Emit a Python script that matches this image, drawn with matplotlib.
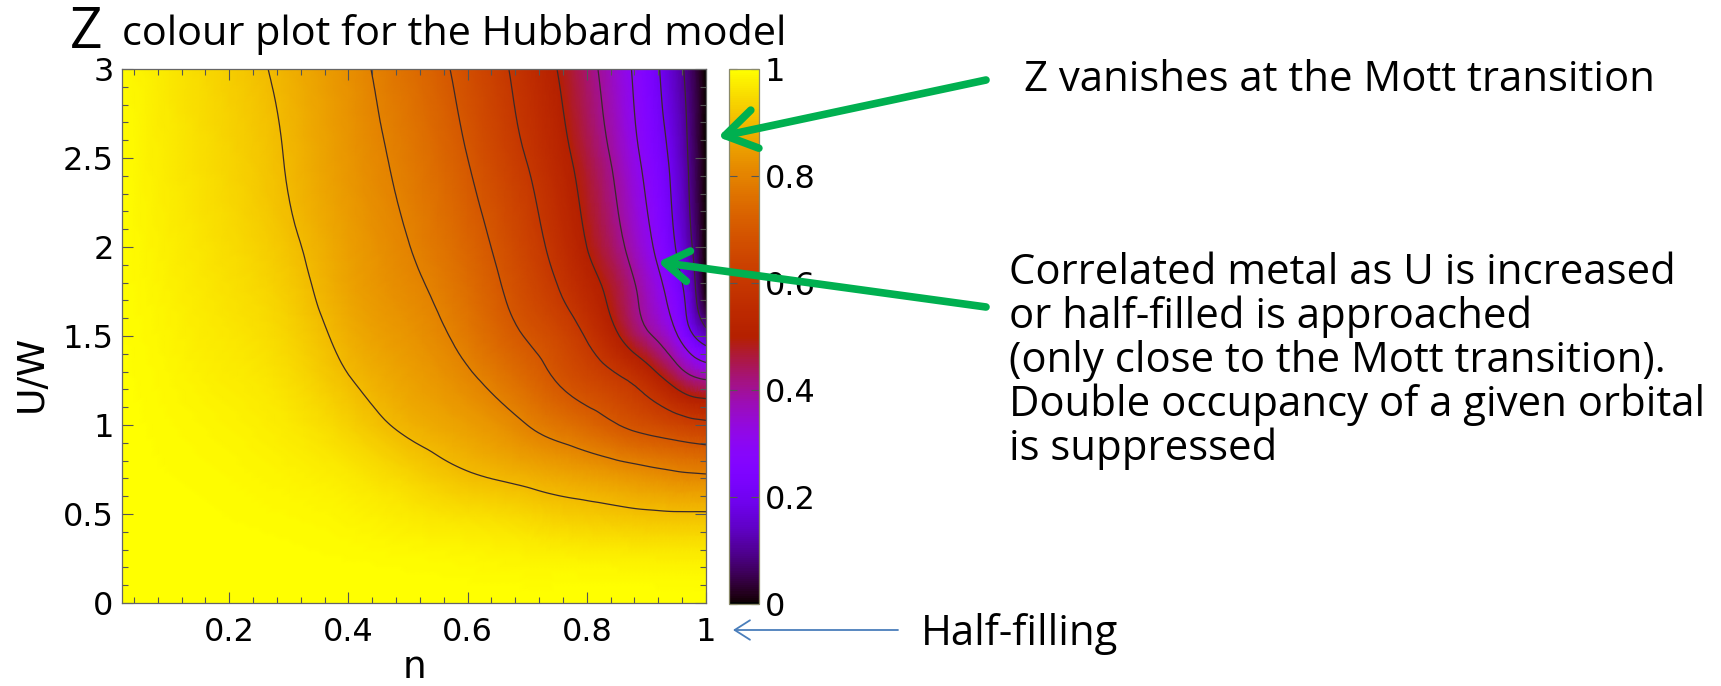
import numpy as np
import matplotlib
matplotlib.use("Agg")
import matplotlib.pyplot as plt
from matplotlib.tri import Triangulation, UniformTriRefiner

plt.rcParams["font.family"] = ["DejaVu Sans"]

# ── data: Z(n, U/W) ──
N_VALS = [0.02, 0.1, 0.2, 0.3, 0.4, 0.5, 0.6, 0.7, 0.75, 0.8, 0.85, 0.9, 0.95, 0.98, 1.0]
U_VALS = [0.0, 0.25, 0.5, 0.75, 1.0, 1.25, 1.5, 1.75, 2.0, 2.5, 3.0]

Z_U000 = [1.0, 1.0, 1.0, 1.0, 1.0, 1.0, 1.0, 1.0, 1.0, 1.0, 1.0, 1.0, 1.0, 1.0, 1.0]
Z_U025 = [1.0, 1.0, 0.999, 0.998, 0.996, 0.993, 0.989, 0.984, 0.982, 0.980, 0.979, 0.977, 0.976, 0.976, 0.976]
Z_U050 = [1.0, 0.999, 0.996, 0.992, 0.985, 0.970, 0.955, 0.940, 0.928, 0.921, 0.914, 0.908, 0.905, 0.905, 0.905]
Z_U075 = [0.999, 0.996, 0.991, 0.982, 0.966, 0.934, 0.898, 0.870, 0.856, 0.842, 0.826, 0.810, 0.795, 0.789, 0.786]
Z_U100 = [0.999, 0.993, 0.984, 0.969, 0.935, 0.887, 0.852, 0.800, 0.769, 0.739, 0.703, 0.672, 0.644, 0.627, 0.620]
Z_U125 = [0.998, 0.989, 0.975, 0.954, 0.904, 0.858, 0.812, 0.742, 0.697, 0.656, 0.617, 0.558, 0.467, 0.419, 0.405]
Z_U150 = [0.997, 0.985, 0.966, 0.939, 0.880, 0.835, 0.778, 0.695, 0.655, 0.593, 0.509, 0.416, 0.310, 0.200, 0.143]
Z_U175 = [0.996, 0.981, 0.958, 0.925, 0.862, 0.816, 0.755, 0.660, 0.606, 0.540, 0.465, 0.367, 0.245, 0.116, 0.0]
Z_U200 = [0.996, 0.977, 0.951, 0.912, 0.853, 0.802, 0.735, 0.637, 0.574, 0.500, 0.425, 0.325, 0.196, 0.088, 0.0]
Z_U250 = [0.995, 0.971, 0.939, 0.895, 0.836, 0.780, 0.700, 0.597, 0.535, 0.462, 0.380, 0.278, 0.163, 0.065, 0.0]
Z_U300 = [0.994, 0.966, 0.929, 0.882, 0.825, 0.756, 0.673, 0.564, 0.500, 0.429, 0.346, 0.250, 0.133, 0.052, 0.0]

CONTOUR_LEVELS = [0.1, 0.2, 0.3, 0.4, 0.5, 0.6, 0.7, 0.8, 0.9]
X_TICKS = [0.2, 0.4, 0.6, 0.8, 1.0]
X_TICKLABELS = ["0.2", "0.4", "0.6", "0.8", "1"]
Y_TICKS = [0, 0.5, 1, 1.5, 2, 2.5, 3]
Y_TICKLABELS = ["0", "0.5", "1", "1.5", "2", "2.5", "3"]
CB_TICKS = [0, 0.2, 0.4, 0.6, 0.8, 1.0]
CB_TICKLABELS = ["0", "0.2", "0.4", "0.6", "0.8", "1"]

W, H = 1721, 686
GREEN = "#00b050"
BLUE = "#4a7ebb"

Z = np.array([Z_U000, Z_U025, Z_U050, Z_U075, Z_U100, Z_U125,
              Z_U150, Z_U175, Z_U200, Z_U250, Z_U300])
NN, UU = np.meshgrid(N_VALS, U_VALS)

# 平滑：matplotlib 自带三角网格细分
tri = Triangulation(NN.ravel(), UU.ravel())
tri_f, z_f = UniformTriRefiner(tri).refine_field(Z.ravel(), subdiv=3)
z_f = np.clip(z_f, 0, 1)

fig = plt.figure(figsize=(W / 100, H / 100), dpi=100)
fig.patch.set_facecolor("white")

# 主图
ax = fig.add_axes([122 / W, 1 - 603 / H, (706 - 122) / W, (603 - 69) / H])
mesh = ax.tripcolor(tri_f, z_f, shading="gouraud", cmap="gnuplot", vmin=0, vmax=1)
ax.tricontour(tri_f, z_f, levels=CONTOUR_LEVELS, colors="#3a2a2a", linewidths=0.9)
ax.set_xlim(0.02, 1.0)
ax.set_ylim(0, 3)

ax.set_xticks(X_TICKS)
ax.set_xticklabels(X_TICKLABELS)
ax.set_yticks(Y_TICKS)
ax.set_yticklabels(Y_TICKLABELS)
ax.set_xticks(np.arange(0.04, 1.0, 0.04), minor=True)
ax.set_yticks(np.arange(0.1, 3.0, 0.1), minor=True)
ax.tick_params(which="both", direction="in", top=True, right=True,
               color="#555555", width=0.8, labelsize=23)
ax.tick_params(which="major", length=8)
ax.tick_params(which="minor", length=4)
ax.tick_params(axis="x", pad=10)
ax.tick_params(axis="y", pad=6)
for s in ax.spines.values():
    s.set_color("#666666")
    s.set_linewidth(0.9)
ax.set_xlabel("n", fontsize=27)
ax.xaxis.set_label_coords(0.5, -0.14)
ax.xaxis.label.set_va("baseline")
ax.set_ylabel("U/W", fontsize=27)
ax.yaxis.set_label_coords(-0.155, 0.43)
ax.yaxis.label.set_va("center")

# 色标
cax = fig.add_axes([729 / W, 1 - 604 / H, 30 / W, (604 - 69) / H])
cb = fig.colorbar(mesh, cax=cax)
cb.set_ticks(CB_TICKS)
cb.set_ticklabels(CB_TICKLABELS)
cax.tick_params(direction="in", left=True, right=True, length=6, width=0.8,
                color="#555555", labelsize=23, pad=4)
cb.outline.set_edgecolor("#8a8a6a")
cb.outline.set_linewidth(0.9)

# 注释层（像素坐标）
ov = fig.add_axes([0, 0, 1, 1], zorder=10)
ov.set_xlim(0, W)
ov.set_ylim(H, 0)
ov.axis("off")

renderer = fig.canvas.get_renderer()


def fit_text(x, y, s, width, **kw):
    t = ov.text(x, y, s, ha="left", va="baseline", **kw)
    w = t.get_window_extent(renderer).width
    t.set_fontsize(t.get_fontsize() * width / w)
    return t


font = "Open Sans"
ov.text(70, 48, "Z", fontsize=41, family=font, ha="left", va="baseline")
fit_text(122, 45, "colour plot for the Hubbard model", 666, fontsize=28, family=font)
fit_text(1024, 91, "Z vanishes at the Mott transition", 630, fontsize=28, family=font)

t0 = fit_text(1009, 284, "Correlated metal as U is increased", 665, fontsize=28, family=font)
fs = t0.get_fontsize()
lines = ["or half-filled is approached",
         "(only close to the Mott transition).",
         "Double occupancy of a given orbital",
         "is suppressed"]
for i, line in enumerate(lines):
    ov.text(1009, 284 + 44 * (i + 1), line, fontsize=fs, family=font,
            ha="left", va="baseline")
ov.text(921, 645, "Half-filling", fontsize=fs, family=font, ha="left", va="baseline")

# 箭头
ov.annotate("", xy=(718, 137), xytext=(986, 80),
            arrowprops=dict(arrowstyle="->,head_length=1.1,head_width=0.7",
                            color=GREEN, lw=5.5, mutation_scale=20,
                            shrinkA=0, shrinkB=0))
ov.annotate("", xy=(658, 262), xytext=(986, 307),
            arrowprops=dict(arrowstyle="->,head_length=0.85,head_width=0.55",
                            color=GREEN, lw=5.5, mutation_scale=20,
                            shrinkA=0, shrinkB=0))
ov.annotate("", xy=(733, 630), xytext=(898, 630),
            arrowprops=dict(arrowstyle="->,head_length=1.1,head_width=0.7",
                            color=BLUE, lw=1.3, mutation_scale=10,
                            shrinkA=0, shrinkB=0))

fig.savefig("out.png", dpi=100, facecolor="white")
